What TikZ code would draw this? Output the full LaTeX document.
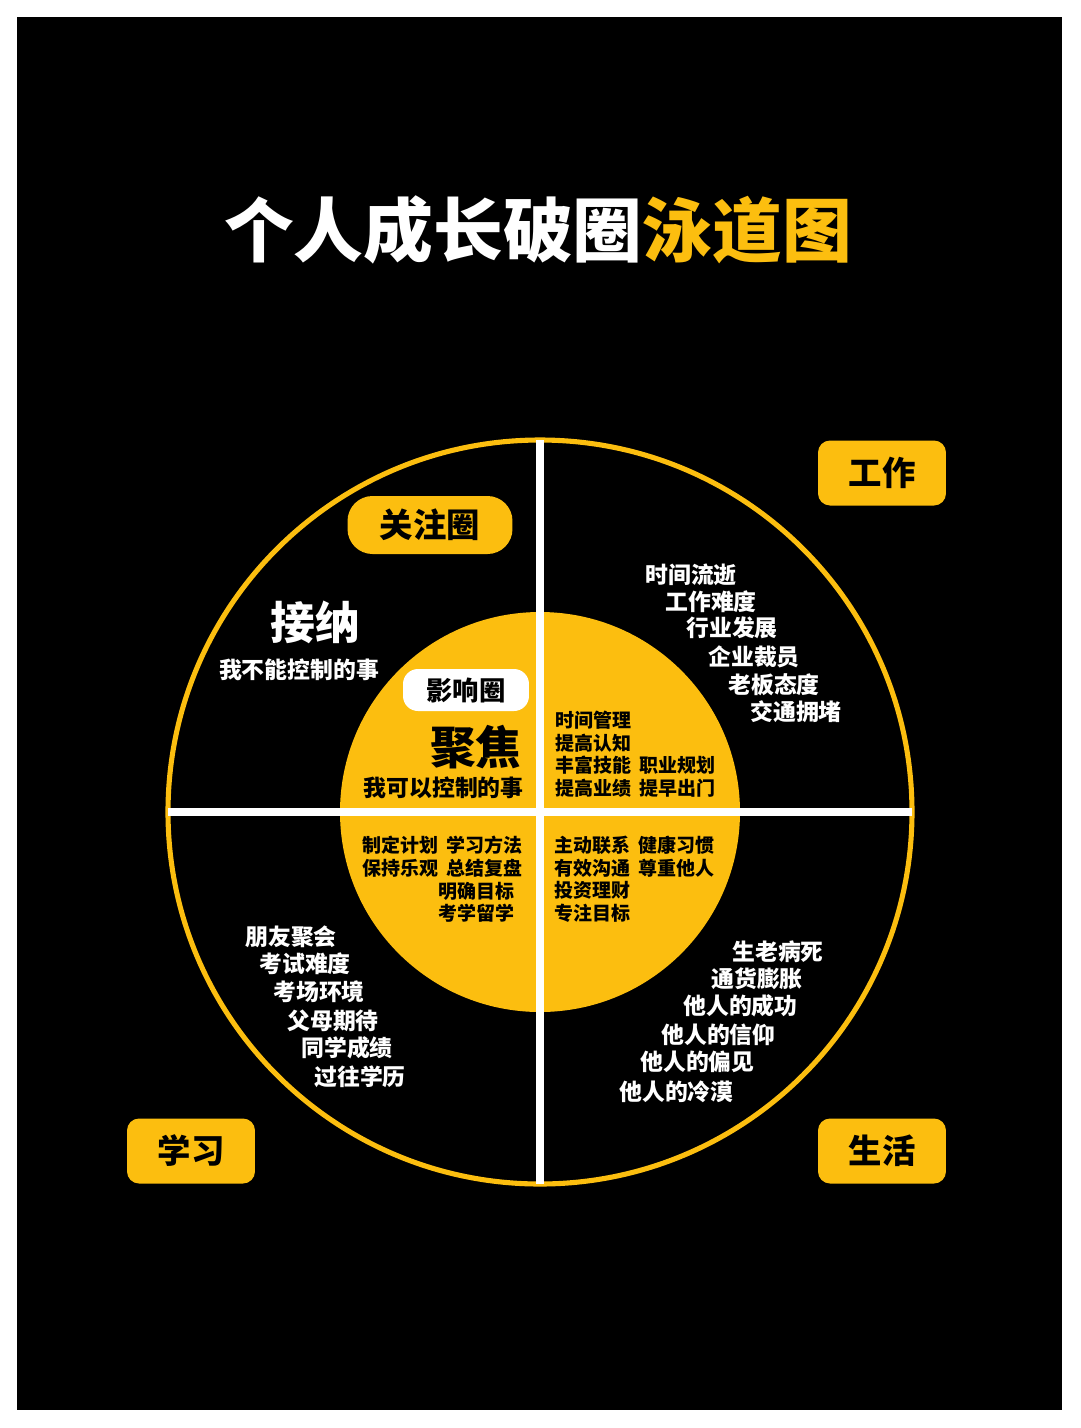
\documentclass[tikz,border=0pt]{standalone}
\usepackage{fontspec}
\setmainfont{Noto Sans CJK SC}
\definecolor{SwimYellow}{RGB}{252,190,15}
\usetikzlibrary{positioning}

\begin{document}
\begin{tikzpicture}[x=0.02cm,y=-0.02cm,
      tag/.style={fill=SwimYellow,text=black,rounded corners=0.24cm,
                  minimum width=2.56cm,minimum height=1.3cm,
                  font=\bfseries\fontsize{19}{22}\selectfont},
      worry/.style={text=white,inner sep=0pt,anchor=west,
                    font=\bfseries\fontsize{13}{15}\selectfont},
      act/.style={text=black,inner sep=0pt,
                  font=\bfseries\fontsize{10.8}{13}\selectfont},
      cross/.style={white,line width=5.1pt}]
    % background
    \fill[white] (0,0) rectangle (1080,1428);
    \fill[black] (17,17) rectangle (1062,1410);
    \node[text=white,font=\bfseries\fontsize{39.7}{44}\selectfont] (title) at (538,230)
      {个人成长破圈\textcolor{SwimYellow}{泳道图}};
    % circles
    \coordinate (c) at (540,812);
    \fill[SwimYellow] (c) circle[radius=200];
    \draw[SwimYellow,line width=2.9pt] (c) circle[radius=372];
    \coordinate (top) at (540,440);
    \coordinate (bot) at (540,1184);
    \coordinate (lft) at (168,812);
    \coordinate (rgt) at (912,812);
    \draw[cross] (top) -- (bot);
    \draw[cross] (lft) -- (rgt);
    % corner tags
    \node[tag] (work) at (882,473) {工作};
    \node[tag] (study) at (191,1151) {学习};
    \node[tag] (life) at (882,1151) {生活};
    \node[tag,rounded corners=0.5cm,minimum width=3.3cm,minimum height=1.16cm] (concern) at (430,525) {关注圈};
    \node[tag,fill=white,rounded corners=0.3cm,minimum width=2.52cm,minimum height=0.84cm,
          font=\bfseries\fontsize{15}{18}\selectfont] (influence) at (466,690) {影响圈};
    % headings
    \node[text=white,inner sep=0pt,font=\bfseries\fontsize{25.5}{30}\selectfont] (accept) at (315,622) {接纳};
    \node[text=white,inner sep=0pt,font=\bfseries\fontsize{13}{15}\selectfont] (cannot) at (299,670) {我不能控制的事};
    \node[text=black,inner sep=0pt,anchor=east,font=\bfseries\fontsize{26}{30}\selectfont] (focus) at (522,747) {聚焦};
    \node[text=black,inner sep=0pt,anchor=east,font=\bfseries\fontsize{13}{15}\selectfont] (can) at (524,788) {我可以控制的事};
    % inside the yellow circle
    \node[act,anchor=north west,align=left] (workact) at (555,710.5)
      {时间管理\\提高认知\\丰富技能\hspace{2pt} 职业规划\\提高业绩\hspace{2pt} 提早出门};
    \node[act,anchor=north east,align=right] (studyact) at (523,835.5)
      {制定计划\hspace{2pt} 学习方法\\保持乐观\hspace{2pt} 总结复盘};
    \node[act,anchor=north east,align=right] (studyact2) at (515,881.5)
      {明确目标\\考学留学};
    \node[act,anchor=north west,align=left] (lifeact) at (554,835.5)
      {主动联系\hspace{2pt} 健康习惯\\有效沟通\hspace{2pt} 尊重他人\\投资理财\\专注目标};
    % work worries
    \node[worry] (w1) at (645,575) {时间流逝};
    \node[worry] (w2) at (665,602) {工作难度};
    \node[worry] (w3) at (686,628) {行业发展};
    \node[worry] (w4) at (708,657) {企业裁员};
    \node[worry] (w5) at (728,685) {老板态度};
    \node[worry] (w6) at (750,712) {交通拥堵};
    % study worries
    \node[worry] (s1) at (245,937) {朋友聚会};
    \node[worry] (s2) at (259,964) {考试难度};
    \node[worry] (s3) at (273,992) {考场环境};
    \node[worry] (s4) at (287,1021) {父母期待};
    \node[worry] (s5) at (301,1048) {同学成绩};
    \node[worry] (s6) at (314,1077) {过往学历};
    % life worries
    \node[worry] (l1) at (732,952) {生老病死};
    \node[worry] (l2) at (711,979) {通货膨胀};
    \node[worry] (l3) at (683,1006) {他人的成功};
    \node[worry] (l4) at (661,1035) {他人的信仰};
    \node[worry] (l5) at (640,1062) {他人的偏见};
    \node[worry] (l6) at (619,1092) {他人的冷漠};
  \end{tikzpicture}
\end{document}
